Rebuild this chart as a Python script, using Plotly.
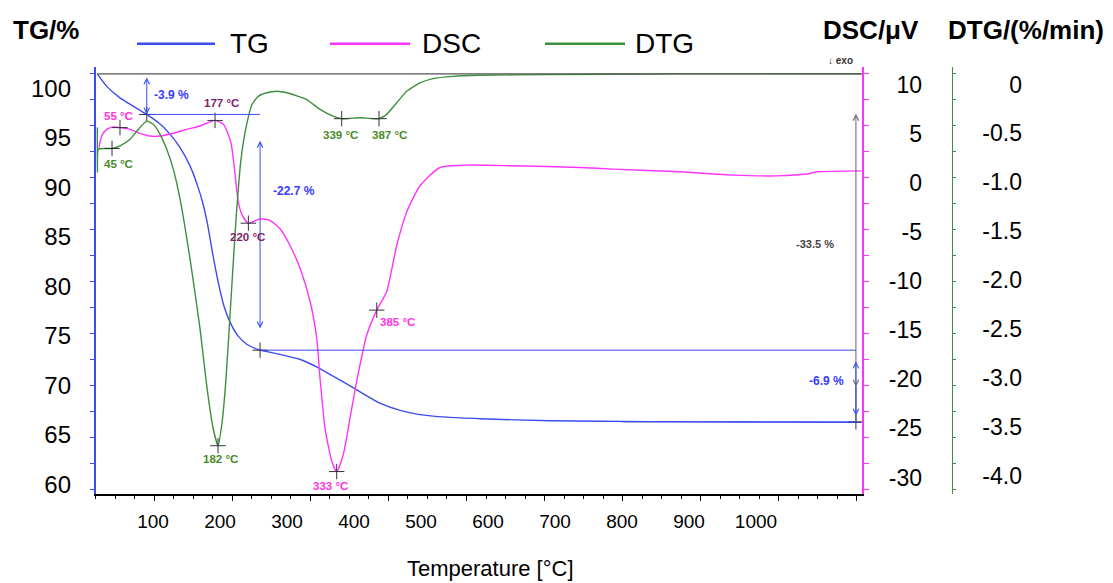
import plotly.graph_objects as go

# ---------------- data ----------------
# TG curve: temperature (°C) and mass (%)
TG_T = [27, 39, 56, 73, 90.3, 107, 120, 133, 146, 156, 162, 168, 175, 182, 189, 197, 207, 218,
        235.5, 261, 287, 308, 329, 359, 389, 415, 440, 475, 518, 607, 735, 863, 1006]
TG = [100.0, 98.8, 97.7, 96.9, 96.1, 95.2, 94.2, 92.9, 91.1, 89.1, 87.6, 85.6, 82.6, 79.9, 77.7,
      76.1, 74.8, 74.0, 73.4, 73.0, 72.5, 71.8, 70.9, 69.6, 68.3, 67.6, 67.2, 66.95, 66.8, 66.6,
      66.52, 66.48, 66.45]

# DSC curve (µV)
DSC_T = [29.1, 32.6, 39.0, 47.5, 56.0, 68.9, 81.7, 94.5, 107.3, 124.3, 141.5, 158.6, 177.8, 188.4,
         197.0, 199.6, 203.4, 207.6, 212.4, 220.5, 235.4, 248.3, 261.1, 273.9, 286.8, 299.6, 308.1,
         312.3, 318.7, 327.3, 333.7, 342.2, 350.8, 360.1, 372.2, 385.0, 397.8, 410.6, 423.4, 440.5,
         466.1, 500.3, 560.3, 645.5, 688.2, 773.6, 841.9, 897.5, 936.0, 948.8, 1006]
DSC = [3.59, 4.76, 5.44, 5.68, 5.62, 5.44, 5.04, 4.76, 4.76, 5.04, 5.44, 5.78, 6.35, 5.95, 4.43,
       3.42, 0.89, -1.95, -3.27, -4.11, -3.67, -3.84, -4.68, -6.38, -8.73, -12.08, -15.82, -19.87,
       -24.94, -28.31, -29.39, -27.64, -23.93, -19.87, -15.49, -12.96, -11.06, -6.38, -2.96, -0.30,
       1.56, 1.80, 1.73, 1.56, 1.39, 1.12, 0.78, 0.71, 0.89, 1.12, 1.22]

# DTG curve (%/min)
DTG_T = [27.0, 27.1, 28.3, 36.8, 45.8, 56.0, 68.9, 79.5, 90.3, 98.7, 107.3, 115.9, 124.3, 132.9,
         145.7, 158.5, 167.5, 175.2, 181.6, 186.7, 191.9, 198.3, 204.7, 211.1, 217.5, 225.2, 232.9,
         244.0, 257.2, 270.0, 295.3, 312.3, 329.0, 340.1, 363.4, 387.9, 397.8, 410.6, 423.4, 440.4,
         457.1, 482.8, 517.4, 602.8, 773.6, 1006]
DTG = [-0.438, -0.896, -0.662, -0.654, -0.654, -0.628, -0.560, -0.458, -0.374, -0.407, -0.509,
       -0.662, -0.865, -1.170, -1.781, -2.494, -3.104, -3.511, -3.695, -3.461, -3.003, -2.188,
       -1.374, -0.763, -0.438, -0.204, -0.122, -0.084, -0.068, -0.084, -0.153, -0.254, -0.323,
       -0.349, -0.339, -0.349, -0.305, -0.186, -0.068, 0.017, 0.061, 0.084, 0.095, 0.102, 0.109,
       0.11]

# marked peaks
DSC_PEAK_T = [56.0, 177.8, 220.5, 333.7, 385.0]
DSC_PEAK_V = [5.62, 6.35, -4.11, -29.39, -12.96]
DSC_PEAK_TXT = ["55 °C", "177 °C", "220 °C", "333 °C", "385 °C"]
DTG_PEAK_T = [45.8, 181.6, 340.1, 387.9]
DTG_PEAK_V = [-0.654, -3.695, -0.349, -0.349]
DTG_PEAK_TXT = ["45 °C", "182 °C", "339 °C", "387 °C"]

# TG steps
STEP_T = [90.3, 235.5, 999.0]
STEP_TG = [96.1, 73.4, 66.5]
TG_START = 100.0
STEP_TXT = ["-3.9 %", "-22.7 %", "-6.9 %"]
TOTAL_TXT = "-33.5 %"

# tick labels
X_LABELS = [100, 200, 300, 400, 500, 600, 700, 800, 900, 1000]
TG_LABELS = [100, 95, 90, 85, 80, 75, 70, 65, 60]
DSC_LABELS = [10, 5, 0, -5, -10, -15, -20, -25, -30]
DTG_LABELS = [0, -0.5, -1.0, -1.5, -2.0, -2.5, -3.0, -3.5, -4.0]
DTG_LABEL_TXT = ["0", "-0.5", "-1.0", "-1.5", "-2.0", "-2.5", "-3.0", "-3.5", "-4.0"]

# ---------------- styling ----------------
W, H = 1113, 583
FONT = "Liberation Sans, Arial, sans-serif"
TG_C = "#3b4cf0"
DSC_C = "#ff33ff"
DTG_C = "#3d8f3d"
LAB_GREEN = "#4a8a28"
LAB_MAG = "#ff33dd"
LAB_PURPLE = "#7a2468"
LAB_BLUE = "#3a3aff"
MARK_C = "#333333"


def px(p):
    return p / W


def py(p):
    return 1 - p / H


XD = [px(95.8), px(862)]
YD = [py(497), py(67)]
X_RANGE = [25, 1006.8]
XL_RANGE = [14.6, 1158.2]
TG_RANGE = [59.51, 100.70]
TGL_RANGE = [58.995, 102.21]
DSC_RANGE = [-31.72, 11.823]
DTG_RANGE = [-4.1934, 0.1832]

fig = go.Figure()

fig.add_trace(go.Scatter(x=TG_T, y=TG, mode="lines", line=dict(color=TG_C, width=1.4, shape="spline", smoothing=0.6),
                         xaxis="x", yaxis="y", hoverinfo="skip"))
fig.add_trace(go.Scatter(x=DSC_T, y=DSC, mode="lines", line=dict(color=DSC_C, width=1.4, shape="spline", smoothing=0.6),
                         xaxis="x", yaxis="y3", hoverinfo="skip"))
fig.add_trace(go.Scatter(x=DTG_T, y=DTG, mode="lines", line=dict(color=DTG_C, width=1.4, shape="spline", smoothing=0.5),
                         xaxis="x", yaxis="y5", hoverinfo="skip"))

# dummy traces so that label-only / tick-only axes are drawn
fig.add_trace(go.Scatter(x=[None], y=[None], xaxis="x2", yaxis="y2", hoverinfo="skip"))
fig.add_trace(go.Scatter(x=[None], y=[None], xaxis="x", yaxis="y4", hoverinfo="skip"))
fig.add_trace(go.Scatter(x=[None], y=[None], xaxis="x", yaxis="y6", hoverinfo="skip"))

# reference + step lines
shapes = [
    dict(type="line", xref="x", yref="y", x0=TG_T[0], x1=X_RANGE[1], y0=TG_START, y1=TG_START,
         line=dict(color="#555555", width=1.3)),
    dict(type="line", xref="x", yref="y", x0=STEP_T[0], x1=STEP_T[1], y0=STEP_TG[0], y1=STEP_TG[0],
         line=dict(color=TG_C, width=1)),
    dict(type="line", xref="x", yref="y", x0=STEP_T[1], x1=STEP_T[2], y0=STEP_TG[1], y1=STEP_TG[1],
         line=dict(color=TG_C, width=1)),
    dict(type="line", xref="x", yref="y", x0=700, x1=STEP_T[2], y0=STEP_TG[2], y1=STEP_TG[2],
         line=dict(color=TG_C, width=1)),
    dict(type="line", xref="x", yref="y", x0=STEP_T[2], x1=STEP_T[2], y0=69.9, y1=STEP_TG[2],
         line=dict(color="#666666", width=1.3)),
]

# manual legend
LEG = [("TG", TG_C, 137, 215, 228), ("DSC", DSC_C, 330, 410, 420), ("DTG", DTG_C, 545, 625, 633)]
annotations = []
for name, col, x0, x1, xt in LEG:
    shapes.append(dict(type="line", xref="paper", yref="paper", x0=px(x0), x1=px(x1), y0=py(44), y1=py(44),
                       line=dict(color=col, width=2.5)))
    annotations.append(dict(text=name, xref="paper", yref="paper", x=px(xt), y=py(44), xanchor="left",
                            yanchor="middle", showarrow=False, font=dict(size=28, color="black", family=FONT)))

# axis titles
for txt, x in [("<b>TG/%</b>", 11), ("<b>DSC/μV</b>", 821), ("<b>DTG/(%/min)</b>", 946)]:
    annotations.append(dict(text=txt, xref="paper", yref="paper", x=px(x), y=py(30), xanchor="left",
                            yanchor="middle", showarrow=False, font=dict(size=26, color="black", family=FONT)))
annotations.append(dict(text="Temperature [°C]", xref="paper", yref="paper", x=px(490), y=py(571),
                        xanchor="center", yanchor="middle", showarrow=False,
                        font=dict(size=22, color="black", family=FONT)))
annotations.append(dict(text="↓ <b>exo</b>", xref="paper", yref="paper", x=px(840), y=py(61),
                        xanchor="center", yanchor="middle", showarrow=False,
                        font=dict(size=10, color="#333333", family=FONT)))


def darrow(T, y0, y1, color):
    return dict(x=T, y=y1, ax=T, ay=y0, xref="x", yref="y", axref="x", ayref="y", text="",
                showarrow=True, arrowside="end+start", arrowhead=5, startarrowhead=5,
                arrowsize=1.1, startarrowsize=1.1, arrowwidth=1, arrowcolor=color,
                standoff=0, startstandoff=0)


annotations += [
    darrow(STEP_T[0], 99.8, STEP_TG[0], TG_C),
    darrow(STEP_T[1], 93.7, 75.5, TG_C),
    darrow(STEP_T[2], 96.3, 69.9, "#666666"),
    darrow(STEP_T[2], 72.45, 67.1, TG_C),
]

# step labels
annotations += [
    dict(text="<b>" + STEP_TXT[0] + "</b>", x=STEP_T[0], y=98.0, xref="x", yref="y", xanchor="left",
         xshift=5, showarrow=False, font=dict(size=12, color=LAB_BLUE, family=FONT)),
    dict(text="<b>" + STEP_TXT[1] + "</b>", x=STEP_T[1], y=88.7, xref="x", yref="y", xanchor="left",
         xshift=11, showarrow=False, font=dict(size=12, color=LAB_BLUE, family=FONT)),
    dict(text="<b>" + STEP_TXT[2] + "</b>", x=960.8, y=70.43, xref="x", yref="y", xanchor="center",
         showarrow=False, font=dict(size=12, color=LAB_BLUE, family=FONT)),
    dict(text="<b>" + TOTAL_TXT + "</b>", x=946.6, y=83.65, xref="x", yref="y", xanchor="center",
         showarrow=False, font=dict(size=11, color="#444444", family=FONT)),
]

# peak labels
DSC_SHIFT = [(-1, 12), (6, 17), (-1, -14), (-6, -14), (21, -12)]
DSC_COL = [LAB_MAG, LAB_PURPLE, LAB_PURPLE, LAB_MAG, LAB_MAG]
for t, v, s, (dx, dy), c in zip(DSC_PEAK_T, DSC_PEAK_V, DSC_PEAK_TXT, DSC_SHIFT, DSC_COL):
    annotations.append(dict(text="<b>" + s + "</b>", x=t, y=v, xref="x", yref="y3", xshift=dx, yshift=dy,
                            showarrow=False, font=dict(size=11.5, color=c, family=FONT)))
DTG_SHIFT = [(6, -16), (2, -13), (-1, -16), (10, -16)]
for t, v, s, (dx, dy) in zip(DTG_PEAK_T, DTG_PEAK_V, DTG_PEAK_TXT, DTG_SHIFT):
    annotations.append(dict(text="<b>" + s + "</b>", x=t, y=v, xref="x", yref="y5", xshift=dx, yshift=dy,
                            showarrow=False, font=dict(size=11.5, color=LAB_GREEN, family=FONT)))

# crosshair markers
MK = dict(symbol="cross-thin", size=11, line=dict(width=1, color=MARK_C), color=MARK_C)
fig.add_trace(go.Scatter(x=DSC_PEAK_T, y=DSC_PEAK_V, mode="markers", marker=MK, xaxis="x", yaxis="y3",
                         hoverinfo="skip"))
fig.add_trace(go.Scatter(x=DTG_PEAK_T, y=DTG_PEAK_V, mode="markers", marker=MK, xaxis="x", yaxis="y5",
                         hoverinfo="skip"))
fig.add_trace(go.Scatter(x=STEP_T, y=STEP_TG, mode="markers", marker=MK, xaxis="x", yaxis="y",
                         hoverinfo="skip"))

common = dict(showgrid=False, zeroline=False)
tickfont_y = dict(size=23, color="black", family=FONT)

fig.update_layout(
    width=W, height=H, margin=dict(l=0, r=0, t=0, b=0),
    plot_bgcolor="white", paper_bgcolor="white", showlegend=False,
    font=dict(family=FONT),
    shapes=shapes, annotations=annotations,
    xaxis=dict(domain=XD, range=X_RANGE, anchor="y", showline=True, linecolor="black", linewidth=1.5,
               ticks="outside", ticklen=5, tickcolor="black", tickwidth=1, tick0=100, dtick=100,
               showticklabels=False,
               minor=dict(ticks="outside", ticklen=3, tick0=0, dtick=25, tickcolor="black", showgrid=False),
               **common),
    xaxis2=dict(overlaying="x", range=XL_RANGE, anchor="y", side="bottom", showline=False, ticks="",
                tickvals=X_LABELS, ticktext=[str(v) for v in X_LABELS], ticklabelstandoff=14,
                tickfont=dict(size=19, color="black", family=FONT), **common),
    yaxis=dict(domain=YD, range=TG_RANGE, anchor="x", side="left", showline=True, linecolor=TG_C,
               linewidth=2, ticks="outside", ticklen=4, tickcolor=TG_C, tick0=100, dtick=2.5,
               showticklabels=False, **common),
    yaxis2=dict(overlaying="y", range=TGL_RANGE, anchor="free", position=px(71), side="left",
                showline=False, ticks="", tickvals=TG_LABELS, ticktext=[str(v) for v in TG_LABELS],
                tickfont=dict(size=24, color="black", family=FONT), **common),
    yaxis3=dict(overlaying="y", range=DSC_RANGE, anchor="free", position=px(922), side="left",
                showline=False, ticks="", tickvals=DSC_LABELS, ticktext=[str(v) for v in DSC_LABELS],
                tickfont=tickfont_y, **common),
    yaxis4=dict(overlaying="y", range=TG_RANGE, anchor="x", side="right", showline=True, linecolor=DSC_C,
                linewidth=2, ticks="outside", ticklen=5, tickcolor=DSC_C, tick0=100, dtick=2.5,
                showticklabels=False, **common),
    yaxis5=dict(overlaying="y", range=DTG_RANGE, anchor="free", position=px(1022), side="left",
                showline=False, ticks="", tickvals=DTG_LABELS, ticktext=DTG_LABEL_TXT,
                tickfont=tickfont_y, **common),
    yaxis6=dict(overlaying="y", range=TG_RANGE, anchor="free", position=px(952), side="right",
                showline=True, linecolor=DTG_C, linewidth=1.2, ticks="outside", ticklen=3,
                tickcolor=DTG_C, tick0=100, dtick=2.5, showticklabels=False, **common),
)

fig.write_html("out.html", config={"displayModeBar": False},
               post_script="document.body.style.margin='0';document.body.style.overflow='hidden';")
